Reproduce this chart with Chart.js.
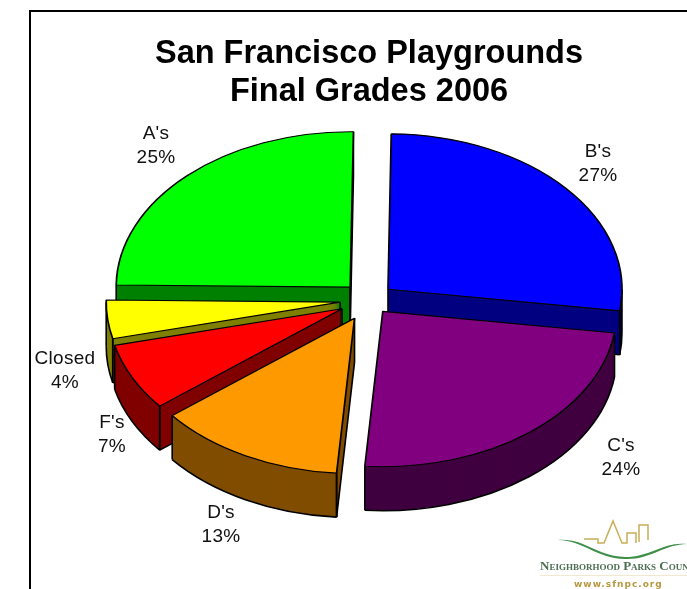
<!DOCTYPE html>
<html>
<head>
<meta charset="utf-8">
<style>html,body{margin:0;padding:0;background:#fff;overflow:hidden}#wrap{width:687px;height:589px;position:relative}</style>
<script src="https://cdn.jsdelivr.net/npm/chart.js@4"></script>
</head>
<body>
<div id="wrap"><canvas id="c" width="687" height="589"></canvas></div>
<script>
const categories = ["B's", "C's", "D's", "F's", "Closed", "A's"];
const values = [27, 24, 13, 7, 4, 25];
const titleLines = ["San Francisco Playgrounds", "Final Grades 2006"];
const topColors = ["#0000ff", "#800080", "#ff9900", "#ff0000", "#ffff00", "#00ff00"];
const wallColors = ["#000080", "#400040", "#804d00", "#800000", "#808000", "#008000"];
const explode = [25, 22, 31, 30, 29, 27];
const drawOrder = [5, 0, 4, 3, 1, 2];
const labelCentres = [[598,152],[621,446],[221,513],[112,423],[65,359],[156,134]];

const PIE = {cx: 369, cy: 300, squash: 0.664, depth: 44};

function slicePath(ctx, arc, dx, dy) {
  ctx.save();
  ctx.translate(dx, dy);
  ctx.scale(1, PIE.squash);
  ctx.translate(-arc.x, -arc.y);
  ctx.beginPath();
  ctx.moveTo(arc.x, arc.y);
  ctx.arc(arc.x, arc.y, arc.outerRadius, arc.startAngle, arc.endAngle);
  ctx.closePath();
  ctx.restore();
}

const pie3d = {
  id: 'pie3d',
  beforeDraw(chart) {
    const ctx = chart.ctx;
    ctx.save();
    ctx.fillStyle = '#fff';
    ctx.fillRect(0, 0, chart.width, chart.height);
    ctx.strokeStyle = '#000';
    ctx.lineWidth = 2;
    ctx.beginPath();
    ctx.moveTo(30, 589);
    ctx.lineTo(30, 11);
    ctx.lineTo(687, 11);
    ctx.stroke();
    ctx.restore();
  },
  beforeDatasetsDraw(chart) {
    const ctx = chart.ctx;
    const arcs = chart.getDatasetMeta(0).data;
    const k = PIE.squash;
    drawOrder.forEach(i => {
      const arc = arcs[i];
      const mid = (arc.startAngle + arc.endAngle) / 2;
      const ox = PIE.cx + Math.cos(mid) * explode[i];
      const oy = PIE.cy + Math.sin(mid) * explode[i] * k;
      const r = arc.outerRadius;
      const a0 = arc.startAngle, a1 = arc.endAngle;
      const px = a => ox + Math.cos(a) * r;
      const py = a => oy + Math.sin(a) * r * k;

      // side walls
      ctx.save();
      ctx.fillStyle = wallColors[i];
      for (let d = PIE.depth; d > 0; d--) {
        slicePath(ctx, arc, ox, oy + d);
        ctx.fill();
      }
      ctx.restore();

      // outlines of the walls
      ctx.save();
      ctx.strokeStyle = '#000';
      ctx.lineWidth = 1.6;
      ctx.lineJoin = 'round';
      const seg = (x1, y1, x2, y2) => { ctx.beginPath(); ctx.moveTo(x1, y1); ctx.lineTo(x2, y2); ctx.stroke(); };
      const D = PIE.depth;
      const twoPi = Math.PI * 2;
      for (let turn = -1; turn <= 1; turn++) {
        const lo = Math.max(a0, turn * twoPi);
        const hi = Math.min(a1, turn * twoPi + Math.PI);
        if (hi > lo) {
          ctx.save();
          ctx.translate(ox, oy + D);
          ctx.scale(1, k);
          ctx.beginPath();
          ctx.arc(0, 0, r, lo, hi);
          ctx.restore();
          ctx.stroke();
          seg(px(lo), py(lo), px(lo), py(lo) + D);
          seg(px(hi), py(hi), px(hi), py(hi) + D);
        }
      }
      if (Math.cos(a0) < 0) {
        seg(ox, oy + D, px(a0), py(a0) + D);
        seg(ox, oy, ox, oy + D);
        seg(px(a0), py(a0), px(a0), py(a0) + D);
      }
      if (Math.cos(a1) > 0) {
        seg(ox, oy + D, px(a1), py(a1) + D);
        seg(ox, oy, ox, oy + D);
        seg(px(a1), py(a1), px(a1), py(a1) + D);
      }
      ctx.restore();

      // top face, drawn by the library's arc element
      ctx.save();
      ctx.translate(ox, oy);
      ctx.scale(1, k);
      ctx.translate(-arc.x, -arc.y);
      arc.draw(ctx);
      ctx.restore();
    });
    return false;
  },
  afterDraw(chart) {
    const ctx = chart.ctx;
    ctx.save();
    // slice labels
    ctx.fillStyle = '#111';
    ctx.font = "19px 'Liberation Sans'";
    ctx.letterSpacing = '0.3px';
    ctx.textAlign = 'center';
    ctx.textBaseline = 'middle';
    categories.forEach((name, i) => {
      const [x, y] = labelCentres[i];
      ctx.fillText(name, x, y);
      ctx.fillText(values[i] + '%', x, y + 24);
    });
    ctx.letterSpacing = '0px';

    // logo
    ctx.fillStyle = '#3f8f4a';
    ctx.beginPath();
    ctx.moveTo(558, 540);
    ctx.bezierCurveTo(585, 538, 595, 556, 625, 557);
    ctx.bezierCurveTo(650, 557, 665, 541, 687, 544);
    ctx.bezierCurveTo(665, 544, 650, 560, 625, 559);
    ctx.bezierCurveTo(595, 558, 585, 541, 558, 540);
    ctx.fill();
    ctx.strokeStyle = '#c9ae55';
    ctx.lineWidth = 1.5;
    ctx.lineCap = 'butt';
    ctx.beginPath();
    ctx.moveTo(584, 539);
    ctx.lineTo(598, 539);
    ctx.lineTo(598, 543);
    ctx.lineTo(604, 543);
    ctx.lineTo(613, 521);
    ctx.lineTo(622, 543);
    ctx.lineTo(627, 543);
    ctx.lineTo(627, 533);
    ctx.lineTo(636, 533);
    ctx.lineTo(636, 543);
    ctx.moveTo(639, 542);
    ctx.lineTo(639, 525);
    ctx.lineTo(648, 525);
    ctx.lineTo(648, 540);
    ctx.stroke();
    ctx.textAlign = 'left';
    ctx.textBaseline = 'alphabetic';
    ctx.fillStyle = '#4d6e52';
    ctx.font = "small-caps 700 13px 'Liberation Serif'";
    ctx.fillText('Neighborhood Parks Coun', 540, 570);
    ctx.strokeStyle = '#f0e8cf';
    ctx.lineWidth = 1;
    ctx.beginPath();
    ctx.moveTo(540, 575.5);
    ctx.lineTo(687, 575.5);
    ctx.stroke();
    ctx.fillStyle = '#b5983f';
    ctx.font = "700 9px 'DejaVu Sans'";
    ctx.letterSpacing = '1px';
    ctx.fillText('www.sfnpc.org', 574, 587);
    ctx.restore();
  }
};

new Chart(document.getElementById('c'), {
  type: 'pie',
  data: {
    labels: categories,
    datasets: [{
      data: values,
      backgroundColor: topColors,
      borderColor: '#000',
      borderWidth: 1.7,
      radius: 234
    }]
  },
  options: {
    responsive: false,
    animation: false,
    rotation: 0.8,
    layout: {padding: {left: 51, right: 0, top: 35, bottom: 0}},
    plugins: {
      legend: {display: false},
      tooltip: {enabled: false},
      title: {
        display: true,
        text: titleLines,
        color: '#000',
        font: {family: "'Liberation Sans'", size: 32.5, weight: 'bold', lineHeight: 1.17},
        padding: {top: 0, bottom: 0}
      }
    }
  },
  plugins: [pie3d]
});
</script>
</body>
</html>
